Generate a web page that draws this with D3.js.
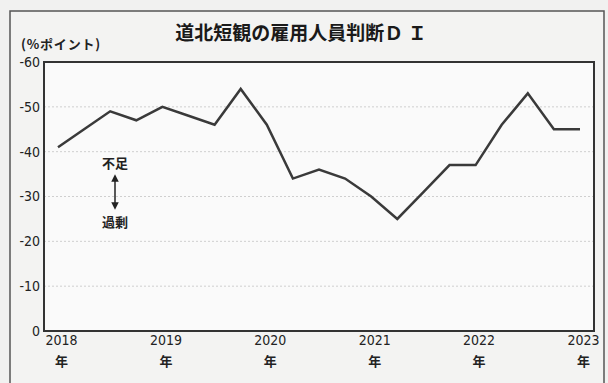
<!DOCTYPE html>
<html><head><meta charset="utf-8">
<script src="https://cdn.jsdelivr.net/npm/d3@7"></script>
<style>
html,body{margin:0;padding:0;background:#f1f1f0;}
svg{display:block;}
</style></head>
<body>
<svg id="c" width="608" height="383"></svg>
<script>
const title = "道北短観の雇用人員判断Ｄ Ｉ";
const unitLabel = "(%ポイント)";
const quarters = ["2018-03","2018-06","2018-09","2018-12","2019-03","2019-06","2019-09","2019-12","2020-03","2020-06","2020-09","2020-12","2021-03","2021-06","2021-09","2021-12","2022-03","2022-06","2022-09","2022-12","2023-03"];
const diValues = [-41,-45,-49,-47,-50,-48,-46,-54,-46,-34,-36,-34,-30,-25,-31,-37,-37,-46,-53,-45,-45];
const yearTicks = ["2018","2019","2020","2021","2022","2023"];
const yTicks = [0,-10,-20,-30,-40,-50,-60];

const svg = d3.select("#c");
const font = "'DejaVu Sans Condensed','Liberation Sans Narrow','Noto Sans CJK JP',sans-serif";
const jp = "'Noto Sans CJK JP',sans-serif";

// outer frame
svg.append("rect").attr("x",10).attr("y",11).attr("width",594).attr("height",380)
  .attr("fill","#f3f3f2").attr("stroke","#555").attr("stroke-width",1.5);

const L=44, R=594, T=62, B=331;
const x = d3.scalePoint().domain(quarters).range([58,580]);
const y = d3.scaleLinear().domain([0,-60]).range([B,T]);

svg.append("rect").attr("x",L).attr("y",T).attr("width",R-L).attr("height",B-T).attr("fill","#fafafa");

// gridlines
svg.append("g").selectAll("line").data(yTicks.filter(d=>d!==0 && d!==-60)).join("line")
  .attr("x1",L).attr("x2",R).attr("y1",d=>y(d)).attr("y2",d=>y(d))
  .attr("stroke","#cfcfcf").attr("stroke-width",1).attr("stroke-dasharray","2,2");

// y axis labels
const ya = d3.axisLeft(y).tickValues(yTicks).tickSize(0).tickPadding(4).tickFormat(d=>String(d));
const gy = svg.append("g").attr("transform",`translate(${L},0)`).call(ya);
gy.select(".domain").remove();
gy.selectAll("text").attr("font-family",font).attr("font-size",14).attr("fill","#222");

// x axis labels
const xa = d3.axisBottom(x).tickValues(yearTicks.map(yr=>yr+"-03")).tickSize(0).tickPadding(4).tickFormat(d=>d.slice(0,4));
const gx = svg.append("g").attr("transform",`translate(0,${B})`).call(xa);
gx.select(".domain").remove();
gx.selectAll("text").attr("font-family",font).attr("font-size",14).attr("fill","#222").attr("dx",3);
gx.selectAll(".tick").append("text").text("年").attr("y",35).attr("dx",3)
  .attr("font-family",jp).attr("font-size",13).attr("font-weight","bold").attr("fill","#222").attr("text-anchor","middle");

// plot border
svg.append("rect").attr("x",L).attr("y",T).attr("width",R-L).attr("height",B-T)
  .attr("fill","none").attr("stroke","#333").attr("stroke-width",2);

// line
const line = d3.line().x((d,i)=>x(quarters[i])).y(d=>y(d));
svg.append("path").datum(diValues).attr("d",line).attr("fill","none")
  .attr("stroke","#3a3a3a").attr("stroke-width",2.5).attr("stroke-linejoin","miter");

// title
svg.append("text").attr("x",301).attr("y",40).attr("text-anchor","middle")
  .attr("font-family",jp).attr("font-size",19).attr("font-weight","bold").attr("fill","#1a1a1a").text(title);
svg.append("text").attr("x",21).attr("y",49)
  .attr("font-family",jp).attr("font-size",13).attr("letter-spacing",0.8).attr("font-weight","bold").attr("fill","#222").text(unitLabel);

// annotation
svg.append("text").attr("x",115).attr("y",168).attr("text-anchor","middle")
  .attr("font-family",jp).attr("font-size",13).attr("font-weight","bold").attr("fill","#222").text("不足");
svg.append("text").attr("x",115).attr("y",227).attr("text-anchor","middle")
  .attr("font-family",jp).attr("font-size",13).attr("font-weight","bold").attr("fill","#222").text("過剰");
const defs = svg.append("defs");
defs.append("marker").attr("id","ah").attr("viewBox","0 0 10 10").attr("refX",5).attr("refY",5)
  .attr("markerWidth",5).attr("markerHeight",5).attr("orient","auto-start-reverse")
  .append("path").attr("d","M0,0 L10,5 L0,10 z").attr("fill","#222");
svg.append("line").attr("x1",115).attr("x2",115).attr("y1",178).attr("y2",206)
  .attr("stroke","#222").attr("stroke-width",1.5)
  .attr("marker-start","url(#ah)").attr("marker-end","url(#ah)");
</script>
</body></html>
